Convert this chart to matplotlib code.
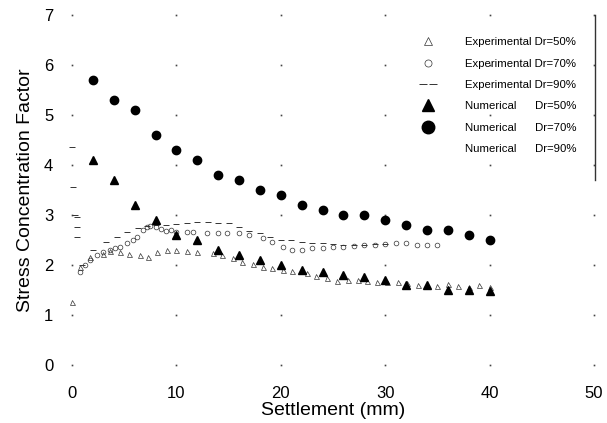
import numpy as np
import matplotlib
matplotlib.use('Agg')
import matplotlib.pyplot as plt
from matplotlib.lines import Line2D
from matplotlib.legend_handler import HandlerLine2D

plt.rcParams['font.family'] = ['Liberation Sans', 'DejaVu Sans']

# numerical results (every 2 mm)
num_x = [2, 4, 6, 8, 10, 12, 14, 16, 18, 20, 22, 24, 26, 28, 30, 32, 34, 36, 38, 40]
num50_y = [4.1, 3.7, 3.2, 2.9, 2.6, 2.5, 2.3, 2.2, 2.1, 2.0, 1.9, 1.85, 1.8, 1.75, 1.7, 1.6, 1.6, 1.5, 1.5, 1.47]
num70_y = [5.7, 5.3, 5.1, 4.6, 4.3, 4.1, 3.8, 3.7, 3.5, 3.4, 3.2, 3.1, 3.0, 3.0, 2.9, 2.8, 2.7, 2.7, 2.6, 2.5]
num90_x = []
num90_y = []

# experimental results
exp50_x = [0, 0.8, 1.7, 3, 3.6, 4.6, 5.5, 6.5, 7.3, 8.1, 9.1, 10, 11, 12, 13.5, 14.4, 15.4, 16.3,
           17.3, 18.3, 19.2, 20.2, 21.1, 22.5, 23.4, 24.4, 25.4, 26.4, 27.4, 28.3, 29.2, 30.2, 31.2,
           32.1, 33.1, 34, 35, 36, 37, 38, 39, 40]
exp50_y = [1.25, 1.95, 2.15, 2.22, 2.28, 2.25, 2.22, 2.2, 2.16, 2.25, 2.3, 2.3, 2.27, 2.26, 2.24,
           2.2, 2.14, 2.06, 2.02, 1.95, 1.93, 1.9, 1.88, 1.84, 1.78, 1.74, 1.68, 1.7, 1.7, 1.67, 1.66,
           1.66, 1.65, 1.63, 1.6, 1.57, 1.57, 1.62, 1.58, 1.56, 1.6, 1.55]

exp70_x = [0.8, 1.2, 1.7, 2.4, 3.0, 3.6, 4.1, 4.6, 5.3, 5.8, 6.2, 6.8, 7.2, 7.5, 8, 8.5, 9, 9.5, 10,
           11, 11.6, 12.9, 14, 14.8, 16, 17, 18.3, 19.2, 20.2, 21.1, 22, 23, 24, 25, 26, 27, 28, 29,
           30, 31, 32, 33, 34, 35]
exp70_y = [1.85, 2.0, 2.1, 2.2, 2.25, 2.3, 2.33, 2.36, 2.44, 2.5, 2.56, 2.7, 2.76, 2.78, 2.75, 2.72,
           2.68, 2.7, 2.66, 2.66, 2.66, 2.64, 2.64, 2.64, 2.64, 2.6, 2.54, 2.46, 2.36, 2.3, 2.3, 2.34,
           2.34, 2.36, 2.36, 2.38, 2.4, 2.4, 2.42, 2.44, 2.44, 2.4, 2.4, 2.4]

exp90_x = [0, 0.1, 0.3, 0.5, 0.5, 0.5, 1.0, 2.0, 3.3, 4.3, 5.3, 6.3, 7.2, 8, 9, 10, 11, 12, 13, 14,
           15, 16, 17, 18, 19, 20, 21, 22, 23, 24, 25, 26, 27, 28, 29, 30]
exp90_y = [4.35, 3.55, 3.0, 2.95, 2.75, 2.55, 2.0, 2.3, 2.46, 2.56, 2.66, 2.74, 2.78, 2.8, 2.8, 2.82,
           2.84, 2.86, 2.86, 2.84, 2.84, 2.76, 2.68, 2.64, 2.56, 2.5, 2.5, 2.46, 2.44, 2.44, 2.42,
           2.4, 2.4, 2.4, 2.42, 2.42]

x_ticks = [0, 10, 20, 30, 40, 50]
y_ticks = [0, 1, 2, 3, 4, 5, 6, 7]

fig = plt.figure(figsize=(6.07, 4.23), dpi=100)
ax = fig.add_axes([0.1015, 0.1135, 0.8942, 0.8747])

# dotted grid: only dots at the tick crossings
gx, gy = np.meshgrid(x_ticks, y_ticks)
ax.plot(gx.ravel(), gy.ravel(), ls='none', marker='s', ms=1.2, mew=0, color='#444444', zorder=0)

l50, = ax.plot(exp50_x, exp50_y, ls='none', marker='^', ms=3.6, mfc='none', mec='#333333', mew=0.5,
               label='Experimental Dr=50%', clip_on=False)
l70, = ax.plot(exp70_x, exp70_y, ls='none', marker='o', ms=3.4, mfc='none', mec='#333333', mew=0.5,
               label='Experimental Dr=70%', clip_on=False)
l90, = ax.plot(exp90_x, exp90_y, ls='none', marker='_', ms=4, mec='#333333', mew=0.7,
               label='Experimental Dr=90%', clip_on=False)
ax.plot(num_x, num50_y, ls='none', marker='^', ms=6, color='black', label='Numerical      Dr=50%')
ax.plot(num_x, num70_y, ls='none', marker='o', ms=6, color='black', label='Numerical      Dr=70%')
ax.plot(num90_x, num90_y, ls='none', marker='s', ms=6, color='black', alpha=0,
        label='Numerical      Dr=90%')

ax.set_xlim(-1, 51)
ax.set_ylim(-0.2, 7.2)
ax.set_xticks(x_ticks)
ax.set_yticks(y_ticks)
ax.tick_params(length=0, labelsize=12)
ax.tick_params(axis='y', pad=6)
ax.tick_params(axis='x', pad=8)
for s in ax.spines.values():
    s.set_visible(False)

ax.set_xlabel('Settlement (mm)', fontsize=14)
ax.set_ylabel('Stress Concentration Factor', fontsize=14)
ax.xaxis.set_label_coords(0.5, -0.073)
ax.yaxis.set_label_coords(-0.05, 0.5)

ax.legend(loc='upper left', bbox_to_anchor=(0.6914, 0.912), bbox_transform=fig.transFigure,
          frameon=False, fontsize=8.2, borderpad=0, borderaxespad=0, handlelength=1.5,
          handletextpad=2.45, labelspacing=1.0, markerscale=1.5, numpoints=1,
          handler_map={l90: HandlerLine2D(numpoints=2)})

fig.add_artist(Line2D([0.980, 0.980], [0.965, 0.574], transform=fig.transFigure,
                      color='#333333', lw=1))

fig.savefig('out.png', dpi=100)
